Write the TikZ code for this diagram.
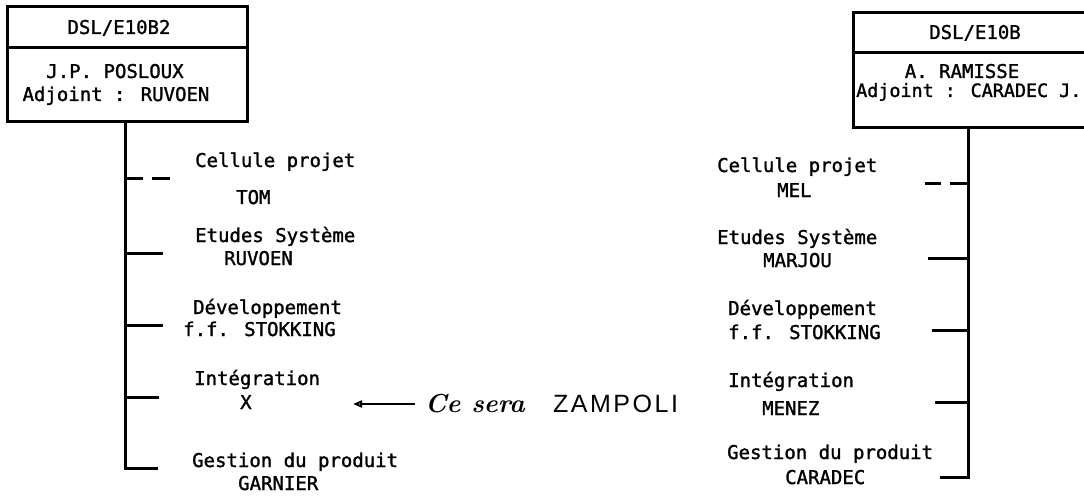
\documentclass[tikz,border=0pt]{standalone}
\usepackage{fontspec}
\newfontfamily\typo[FakeBold=1.4]{DejaVu Sans Mono}
\newfontfamily\handcaps[LetterSpace=10]{Liberation Sans}
\usetikzlibrary{arrows.meta,positioning}
\tikzset{
  frame/.style  ={draw,line width=3pt,outer sep=0pt,inner sep=0pt},
  txt/.style    ={font=\typo\fontsize{19}{23}\selectfont,inner sep=0pt,
                  text height=14pt,text depth=0pt},
  lft/.style    ={txt,anchor=west},
  bar/.style    ={line width=3pt},
  dashbar/.style={bar,dash pattern=on 18pt off 9pt on 18pt off 40pt},
  hand/.style   ={line width=2pt,-{Triangle[open,length=9pt,width=7pt]}},
}
\begin{document}
\begin{tikzpicture}[x=1pt,y=-1pt]
  \useasboundingbox (0,0) rectangle (1084,497);
  \fill[white] (0,0) rectangle (1084,497);
  \clip (0,0) rectangle (1084,497);

  % left department
  \node[frame,minimum width=240pt,minimum height=41pt] (lhead) at (127,27.5) {};
  \node[frame,minimum width=240pt,minimum height=74pt,below=0pt of lhead] (lbody) {};
  \node[txt] (lunit) at (119,27) {DSL/E10B2};
  \node[txt] (lchef) at (115,71) {J.P. POSLOUX};
  \node[txt] (ladj)  at (116,94) {Adjoint : RUVOEN};

  \coordinate (lstem) at (125,468);
  \coordinate (lcelb) at (170,179);
  \coordinate (letub) at (163,253);
  \coordinate (ldevb) at (163,325);
  \coordinate (lintb) at (159,397);
  \coordinate (lgesb) at (158,468);
  \draw[bar] (lbody.south -| lstem) -- (lstem) -- (lgesb);
  \draw[dashbar] (lcelb -| lstem) -- (lcelb);
  \foreach \b in {letub,ldevb,lintb}
    \draw[bar] (\b -| lstem) -- (\b);

  \node[lft] (lcel) at (195,160) {Cellule projet};
  \node[lft] (ltom) at (236,197) {TOM};
  \node[lft] (letu) at (195,235) {Etudes Système};
  \node[lft] (lruv) at (224,258) {RUVOEN};
  \node[lft] (ldev) at (193,307) {Développement};
  \node[lft] (lstk) at (183,329) {f.f. STOKKING};
  \node[lft] (lint) at (194,378) {Intégration};
  \node[lft] (lx)   at (240,402) {X};
  \node[lft] (lges) at (192,460) {Gestion du produit};
  \node[lft] (lgar) at (238,483) {GARNIER};

  % right department
  \node[frame,minimum width=244pt,minimum height=40pt] (rhead) at (975,33) {};
  \node[frame,minimum width=244pt,minimum height=75pt,below=0pt of rhead] (rbody) {};
  \node[txt] (runit) at (975,32) {DSL/E10B};
  \node[txt] (rchef) at (962,71) {A. RAMISSE};
  \node[lft,font=\typo\fontsize{18.4}{22}\selectfont] (radj) at (856,90)
    {Adjoint : CARADEC J.};

  \coordinate (rstem) at (968,477);
  \coordinate (rcelb) at (925,184);
  \coordinate (retub) at (928,258);
  \coordinate (rdevb) at (932,330);
  \coordinate (rintb) at (935,402);
  \coordinate (rgesb) at (940,477);
  \draw[bar] (rbody.south -| rstem) -- (rstem) -- (rgesb);
  \draw[dashbar] (rcelb -| rstem) -- (rcelb);
  \foreach \b in {retub,rdevb,rintb}
    \draw[bar] (\b -| rstem) -- (\b);

  \node[lft] (rcel) at (717,165) {Cellule projet};
  \node[lft] (rmel) at (777,190) {MEL};
  \node[lft] (retu) at (717,237) {Etudes Système};
  \node[lft] (rmar) at (763,260) {MARJOU};
  \node[lft] (rdev) at (728,308) {Développement};
  \node[lft] (rstk) at (728,332) {f.f. STOKKING};
  \node[lft] (rint) at (728,380) {Intégration};
  \node[lft] (rmen) at (762,408) {MENEZ};
  \node[lft] (rges) at (727,452) {Gestion du produit};
  \node[lft] (rcar) at (785,477) {CARADEC};

  % handwritten note
  \node[font=\fontsize{26}{28}\selectfont\bfseries\itshape,anchor=west,inner sep=0pt]
    (nce) at (425,404) {Ce sera};
  \node[font=\handcaps\fontsize{25}{28}\selectfont,anchor=west,inner sep=0pt]
    (nzam) at (553,404) {ZAMPOLI};
  \coordinate (ntip) at (353,404);
  \draw[hand] ([xshift=-10pt]nce.west) -- (ntip);
\end{tikzpicture}
\end{document}
